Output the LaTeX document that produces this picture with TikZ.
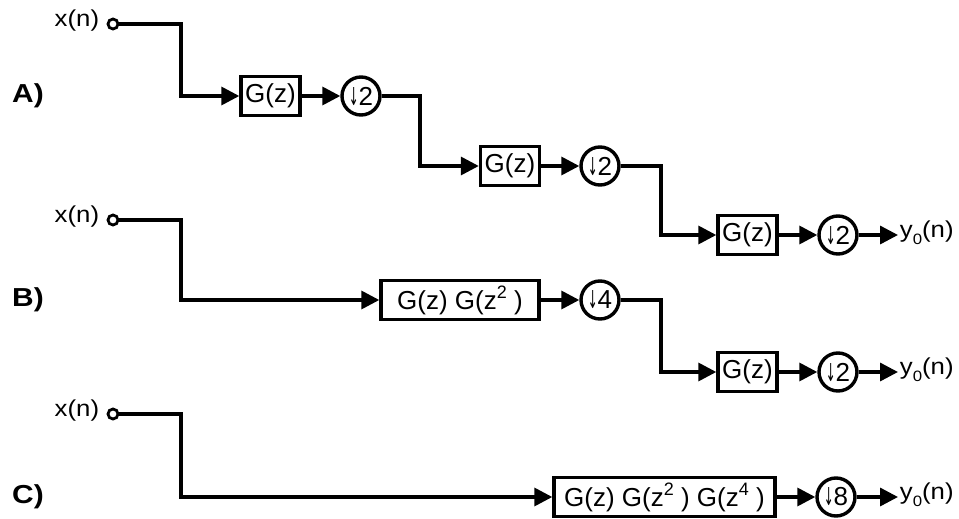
\documentclass[tikz,border=0pt]{standalone}
\usepackage{fontspec}
\setmainfont{Liberation Sans}
\newfontfamily\arrowfont{DejaVu Sans}
\usetikzlibrary{arrows.meta,positioning}
\newcommand\dnarrow{\scalebox{0.45}[0.95]{\arrowfont\char"2193}}
\newcommand\upidx[1]{\raisebox{0.42em}{\fontsize{18}{18}\selectfont#1}}
\newcommand\outsig{y\raisebox{-0.3em}{\fontsize{15}{15}\selectfont 0}(n)}
\begin{document}
\begin{tikzpicture}[x=1pt,y=-1pt,line width=3.4pt,
  >={Triangle[length=18pt,width=18pt]},
  blk/.style={draw,minimum height=39pt,inner sep=0pt,font=\fontsize{26}{26}\selectfont},
  dec/.style={draw,circle,minimum size=38pt,inner sep=0pt,font=\fontsize{26}{26}\selectfont},
  port/.style={draw,circle,minimum size=10pt,inner sep=0pt,line width=2.8pt},
  sig/.style={inner sep=0pt,font=\fontsize{23}{23}\selectfont,xscale=1.12},
  tag/.style={inner sep=0pt,font=\fontsize{26}{26}\selectfont\bfseries,xscale=1.15}]
\useasboundingbox (0,0) rectangle (959,519);
% labels and inputs
\foreach \r/\t/\y/\p in {A/A)/96/24,B/B)/300/220,C/C)/497/414}{
  \node[tag] (t\r) at (28,\y) {\t};
  \node[port] (x\r) at (113,\p) {};
  \node[sig,anchor=east] (lx\r) at (101,\p-3) {x(n)};
  \coordinate (k\r) at (181,\y);
}
% row A
\node[blk,minimum width=59pt] (gA1) at (270.5,96) {G(z)};
\node[dec] (dA1) at (361,96) {\dnarrow2};
\coordinate (kA2) at (420,166);
\node[blk,minimum width=59pt] (gA2) at (510,166) {G(z)};
\node[dec] (dA2) at (600,166) {\dnarrow2};
\coordinate (kA3) at (661,235);
\node[blk,minimum width=59pt] (gA3) at (747.5,235) {G(z)};
\node[dec] (dA3) at (838,235) {\dnarrow2};
\node[sig,anchor=west] (yA) at (898,233) {\outsig};
\draw[->] (xA) -| (kA) -- (gA1);
\draw[->] (gA1) -- (dA1);
\draw[->] (dA1) -| (kA2) -- (gA2);
\draw[->] (gA2) -- (dA2);
\draw[->] (dA2) -| (kA3) -- (gA3);
\draw[->] (gA3) -- (dA3);
\draw[->] (dA3) -- (dA3 -| yA.west);
% row B
\node[blk,minimum width=158pt] (gB1) at (460,300) {G(z) G(z\upidx{2} )};
\node[dec] (dB1) at (600,300) {\dnarrow4};
\coordinate (kB2) at (661,372);
\node[blk,minimum width=59pt] (gB2) at (747.5,372) {G(z)};
\node[dec] (dB2) at (838,372) {\dnarrow2};
\node[sig,anchor=west] (yB) at (898,370) {\outsig};
\draw[->] (xB) -| (kB) -- (gB1);
\draw[->] (gB1) -- (dB1);
\draw[->] (dB1) -| (kB2) -- (gB2);
\draw[->] (gB2) -- (dB2);
\draw[->] (dB2) -- (dB2 -| yB.west);
% row C
\node[blk,minimum width=221pt] (gC1) at (664.5,497) {G(z) G(z\upidx{2} ) G(z\upidx{4} )};
\node[dec] (dC1) at (836,497) {\dnarrow8};
\node[sig,anchor=west] (yC) at (898,495) {\outsig};
\draw[->] (xC) -| (kC) -- (gC1);
\draw[->] (gC1) -- (dC1);
\draw[->] (dC1) -- (dC1 -| yC.west);
\end{tikzpicture}
\end{document}
